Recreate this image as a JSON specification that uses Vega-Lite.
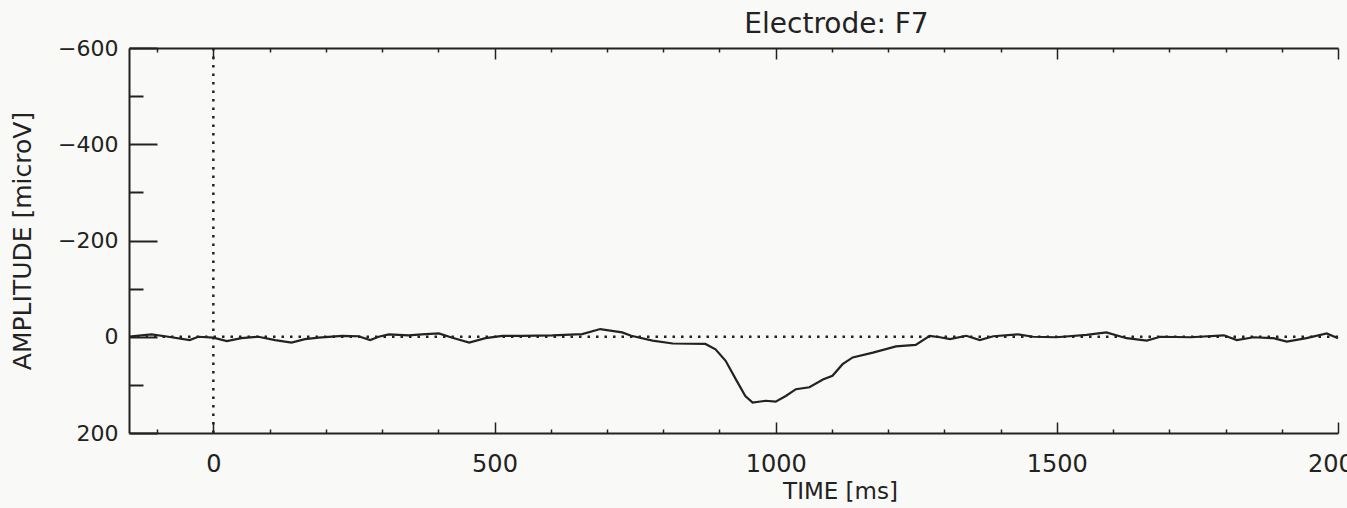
{
  "$schema": "https://vega.github.io/schema/vega-lite/v6.json",
  "width": 1209,
  "height": 385,
  "autosize": {"type": "none"},
  "padding": {"left": 129, "top": 48, "right": 9, "bottom": 75},
  "background": "#f9f9f7",
  "config": {"view": {"stroke": null}},
  "title": {"text": "Electrode: F7", "anchor": "middle", "dx": 103, "fontSize": 28, "font": "DejaVu Sans", "fontWeight": "normal", "color": "#222222", "offset": -2},
  "layer": [
    {
      "data": {"values": [
        {"t": -147, "v": 0}, {"t": -145, "v": -1}, {"t": -110, "v": -5}, {"t": -80, "v": 0}, {"t": -42, "v": 7}, {"t": -27, "v": 0},
        {"t": 0, "v": 2}, {"t": 24, "v": 9}, {"t": 50, "v": 3}, {"t": 80, "v": 0}, {"t": 110, "v": 7}, {"t": 139, "v": 12},
        {"t": 163, "v": 5}, {"t": 187, "v": 2}, {"t": 229, "v": -2}, {"t": 258, "v": -1}, {"t": 279, "v": 7}, {"t": 294, "v": 0},
        {"t": 312, "v": -5}, {"t": 347, "v": -3}, {"t": 371, "v": -5}, {"t": 401, "v": -7}, {"t": 425, "v": 2}, {"t": 455, "v": 12},
        {"t": 484, "v": 3}, {"t": 514, "v": -2}, {"t": 549, "v": -2}, {"t": 603, "v": -3}, {"t": 656, "v": -5.5}, {"t": 688, "v": -16},
        {"t": 727, "v": -9}, {"t": 743, "v": -2}, {"t": 781, "v": 8}, {"t": 817, "v": 14}, {"t": 875, "v": 15}, {"t": 893, "v": 26},
        {"t": 911, "v": 50}, {"t": 929, "v": 88}, {"t": 946, "v": 123}, {"t": 959, "v": 137}, {"t": 982, "v": 133}, {"t": 1000, "v": 135},
        {"t": 1018, "v": 123}, {"t": 1036, "v": 109}, {"t": 1060, "v": 105}, {"t": 1084, "v": 89}, {"t": 1101, "v": 81}, {"t": 1119, "v": 57},
        {"t": 1137, "v": 43}, {"t": 1173, "v": 33}, {"t": 1214, "v": 20}, {"t": 1249, "v": 17}, {"t": 1274, "v": -2}, {"t": 1292, "v": 1},
        {"t": 1310, "v": 5}, {"t": 1339, "v": -2}, {"t": 1363, "v": 7}, {"t": 1387, "v": -1}, {"t": 1431, "v": -5}, {"t": 1458, "v": 0},
        {"t": 1499, "v": 1}, {"t": 1553, "v": -4}, {"t": 1588, "v": -9}, {"t": 1624, "v": 3}, {"t": 1660, "v": 8}, {"t": 1684, "v": 0},
        {"t": 1738, "v": 1}, {"t": 1797, "v": -3}, {"t": 1820, "v": 7}, {"t": 1850, "v": 1}, {"t": 1885, "v": 3}, {"t": 1909, "v": 10},
        {"t": 1944, "v": 3}, {"t": 1980, "v": -7}, {"t": 2000, "v": 3}
      ]},
      "mark": {"type": "line", "color": "#222222", "strokeWidth": 2.2},
      "encoding": {
        "x": {"field": "t", "type": "quantitative",
          "scale": {"domain": [-150, 2000], "nice": false, "zero": false},
          "axis": {"orient": "bottom", "title": "TIME [ms]", "grid": false, "format": "d",
            "values": [-100, 0, 100, 200, 300, 400, 500, 600, 700, 800, 900, 1000, 1100, 1200, 1300, 1400, 1500, 1600, 1700, 1800, 1900, 2000],
            "labelExpr": "datum.value % 500 === 0 ? datum.label : ''",
            "tickSize": {"condition": {"test": "datum.value % 500 === 0", "value": -11}, "value": -4},
            "tickWidth": 1.5, "tickColor": "#222222", "domainColor": "#222222", "domainWidth": 2,
            "labelFont": "DejaVu Sans", "labelFontSize": 24, "labelColor": "#222222", "labelPadding": 30, "labelFlush": false, "labelOverlap": false,
            "titleFont": "DejaVu Sans", "titleFontSize": 23, "titleFontWeight": "normal", "titleColor": "#222222",
            "titleX": 711, "titleY": 65, "titleBaseline": "alphabetic", "titleAlign": "center"}},
        "y": {"field": "v", "type": "quantitative",
          "scale": {"domain": [-600, 200], "nice": false, "zero": false, "reverse": true},
          "axis": {"orient": "left", "title": "AMPLITUDE [microV]", "grid": false, "format": "d",
            "values": [-600, -550, -500, -450, -400, -350, -300, -250, -200, -150, -100, -50, 0, 50, 100, 150, 200],
            "labelExpr": "datum.value % 200 === 0 ? datum.label : ''",
            "tickSize": {"condition": {"test": "datum.value % 200 === 0", "value": -28}, "value": -14},
            "tickWidth": 2, "tickColor": "#222222", "domainColor": "#222222", "domainWidth": 2,
            "labelFont": "DejaVu Sans", "labelFontSize": 22, "labelColor": "#222222", "labelPadding": 39, "labelFlush": false, "labelOverlap": false,
            "titleFont": "DejaVu Sans", "titleFontSize": 25, "titleFontWeight": "normal", "titleColor": "#222222", "titlePadding": 22}}
      }
    },
    {
      "data": {"values": [{}]},
      "mark": {"type": "rule", "color": "#222222", "strokeWidth": 2.5, "strokeDash": [2.5, 6]},
      "encoding": {"y": {"datum": 0, "type": "quantitative"}}
    },
    {
      "data": {"values": [{}]},
      "mark": {"type": "rule", "color": "#222222", "strokeWidth": 2.5, "strokeDash": [2.5, 6]},
      "encoding": {"x": {"datum": 0, "type": "quantitative",
        "axis": {"orient": "top", "title": null, "grid": false, "labels": false,
          "values": [-100, 0, 100, 200, 300, 400, 500, 600, 700, 800, 900, 1000, 1100, 1200, 1300, 1400, 1500, 1600, 1700, 1800, 1900, 2000],
          "tickSize": {"condition": {"test": "datum.value % 500 === 0", "value": -11}, "value": -4},
          "tickWidth": 1.5, "tickColor": "#222222", "domainColor": "#222222", "domainWidth": 2}}}
    }
  ],
  "resolve": {"axis": {"x": "independent"}}
}
